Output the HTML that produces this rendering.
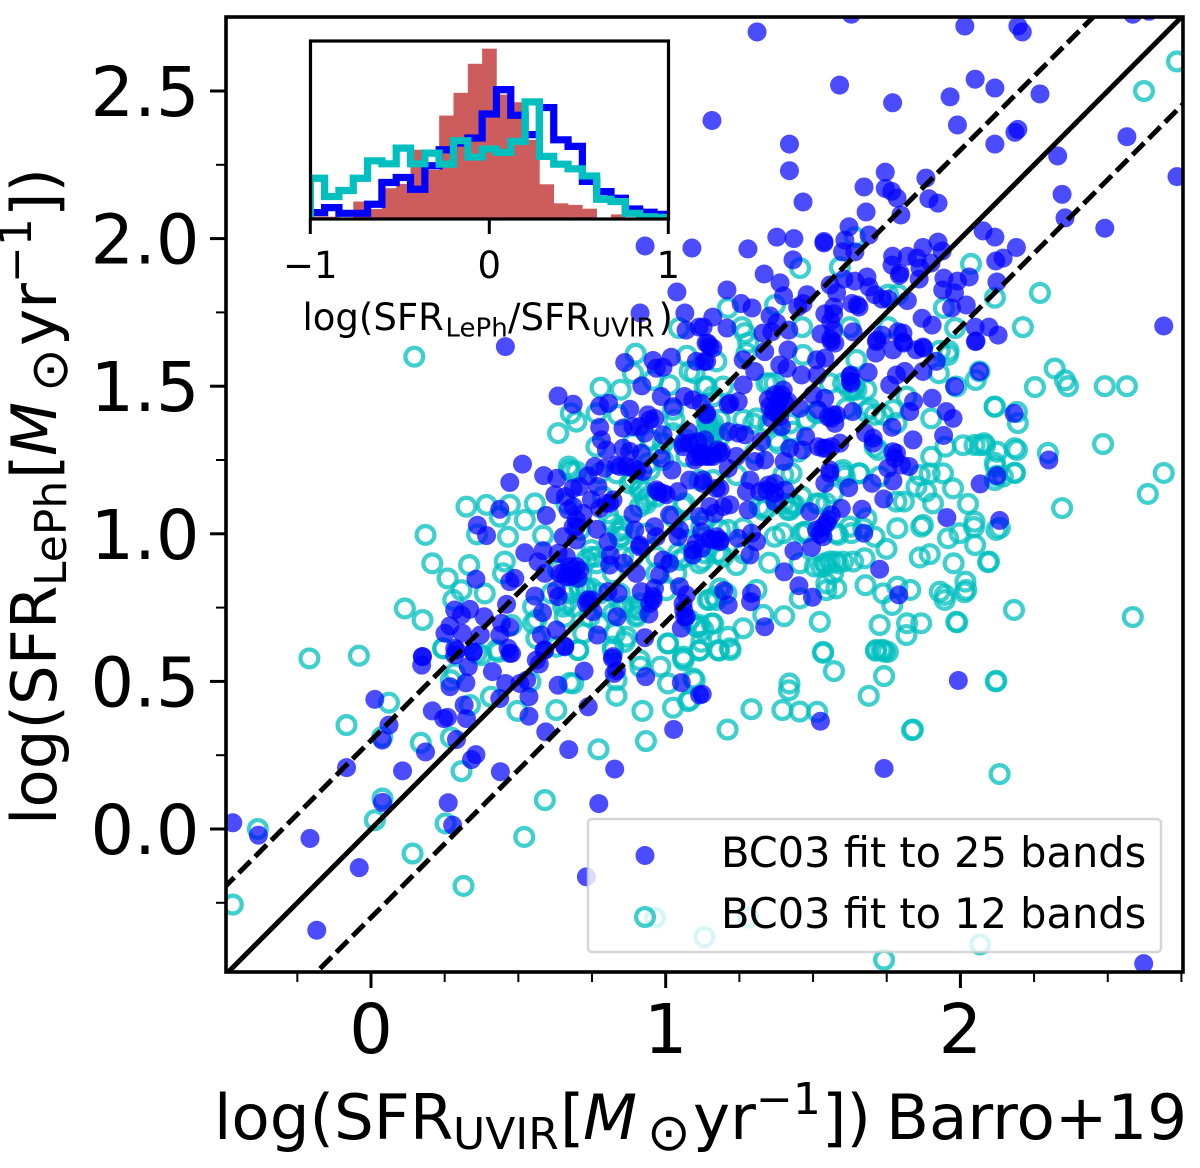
<!DOCTYPE html>
<html lang="en">
<head>
<meta charset="utf-8">
<title>SFR comparison scatter chart</title>
<style>
html,body{margin:0;padding:0;background:#fff;}
svg{display:block;font-family:"DejaVu Sans",sans-serif;}
text{fill:#000;}
</style>
</head>
<body>
<svg id="chart" xmlns="http://www.w3.org/2000/svg" width="1200" height="1168" viewBox="0 0 1200 1168">
  <defs>
    <clipPath id="plot-clip"><rect x="226" y="17" width="957" height="955"/></clipPath>
    <clipPath id="inset-clip"><rect x="310.5" y="41" width="358" height="178"/></clipPath>
  </defs>
  <rect x="0" y="0" width="1200" height="1168" fill="#fff"/>
  <g id="series-layer" clip-path="url(#plot-clip)"></g>
  <g id="line-layer" clip-path="url(#plot-clip)"></g>
  <g id="axis-layer"></g>

  <g transform="translate(214,1139)">
    <text x="0" y="0" font-size="62.7">log(SFR</text>
    <text x="239" y="10" font-size="44">UVIR</text>
    <text x="346" y="0" font-size="62.7">[</text>
    <text x="369" y="0" font-size="62.7" font-style="italic">M</text>
    <text x="433" y="11" font-size="52">⊙</text>
    <text x="479" y="0" font-size="62.7">yr</text>
    <text x="542" y="-25" font-size="44">−1</text>
    <text x="608" y="0" font-size="62.7">])</text>
    <text x="672" y="0" font-size="62.7">Barro+19</text>
  </g>
  <g transform="translate(56,825) rotate(-90)">
    <text x="0" y="0" font-size="62.7">log(SFR</text>
    <text x="239" y="10" font-size="44">LePh</text>
    <text x="346" y="0" font-size="62.7">[</text>
    <text x="369" y="0" font-size="62.7" font-style="italic">M</text>
    <text x="433" y="11" font-size="52">⊙</text>
    <text x="479" y="0" font-size="62.7">yr</text>
    <text x="542" y="-25" font-size="44">−1</text>
    <text x="608" y="0" font-size="62.7">])</text>
  </g>

  <g>
    <rect x="588" y="819" width="573" height="133" rx="4" fill="#fff" fill-opacity="0.8" stroke="#ccc" stroke-opacity="0.8" stroke-width="2.5"/>
    <circle cx="645" cy="855.5" r="9.5" fill="#0000ff" fill-opacity="0.7"/>
    <text x="721" y="867" font-size="41.5">BC03 fit to 25 bands</text>
    <circle cx="645" cy="917" r="8.9" fill="none" stroke="#00bfbf" stroke-opacity="0.75" stroke-width="4.3"/>
    <text x="721" y="928" font-size="41.5">BC03 fit to 12 bands</text>
  </g>

  <g>
    <rect x="310.5" y="41" width="358" height="178" fill="#fff"/>
    <g id="inset-bars" clip-path="url(#inset-clip)"></g>
    <g id="inset-steps" clip-path="url(#inset-clip)"></g>
    <rect x="310.5" y="41" width="358" height="178" fill="none" stroke="#000" stroke-width="3.2"/>
    <g id="inset-axis"></g>
    <g transform="translate(302.5,330)">
      <text x="0" y="0" font-size="37">log(SFR</text>
      <text x="143" y="6.5" font-size="26">LePh</text>
      <text x="205.5" y="0" font-size="37">/SFR</text>
      <text x="289.5" y="6.5" font-size="26">UVIR</text>
      <text x="356" y="0" font-size="37">)</text>
    </g>
  </g>
</svg>
<script>
const xTickLabels = [0, 1, 2];
const yTickLabels = [0.0, 0.5, 1.0, 1.5, 2.0, 2.5];
const xMinorTicks = [-0.25, 0.25, 0.5, 0.75, 1.25, 1.5, 1.75, 2.25, 2.5, 2.75];
const yMinorTicks = [-0.25, 0.25, 0.75, 1.25, 1.75, 2.25];
const lineOffsets = [0.3, -0.3];
const insetTicks = [-1, 0, 1];
const binStart = -1;
const binWidth = 0.08;
const histRed = [1.3,1.3,0.8,9.8,5.6,17.3,19.7,38.9,27.6,58.1,70.9,87.2,95.7,69.9,65.6,44.5,19.5,8.8,7.9,5.8,0,2.6,0.8,0,0];
const histBlue = [3.6,6.4,3.2,3.2,8.3,20.5,23.3,16.7,29.9,38.9,42.7,45.5,59.0,72.7,58.3,47.4,62.6,44.5,40.8,21.1,15.4,11.7,5.6,3.8,2.6];
const histCyan = [22.9,12.6,16.0,22.9,32.7,31.0,39.8,31.0,37.0,30.8,44.0,34.8,39.3,37.4,43.6,65.8,35.2,30.8,28.2,24.2,11.1,9.8,3.2,1.3,0.9];

const points12Bands = [
[-.209,.578],[-.041,.587],[.061,.428],[-.083,.352],[.038,.312],[.169,.292],[.271,.310],[.307,.196],[.039,.103],[.013,.030],[.253,.019],[-.384,0],[-.469,-.256],[.141,-.083],[.314,-.193],[.590,.098],[.520,-.027],[.772,.270],[.933,.298],[.921,.400],[.833,.451],[.833,.504],[1.025,.411],[1.076,.433],[1.008,.493],[.982,.550],[.914,.550],[1.059,.578],[1.061,.572],[1.093,.510],[.629,.403],[.497,.400],[.407,.448],[.336,.420],[.541,.499],[.675,.495],[.686,.493],[.703,.606],[.821,.606],[.861,.634],[1.008,.629],[.271,.504],[.285,.527],[.245,.612],[.375,.589],[.358,.595],[.432,.600],[.629,.617],
[1.114,.604],[1.181,.604],[1.220,.606],[1.534,.597],[1.571,.535],[1.713,.604],[1.732,.606],[1.743,.600],[1.741,.518],[1.689,.451],[2.122,.502],[1.839,.337],[2.133,.186],[1.420,.493],[1.418,.470],[1.291,.406],[1.396,.403],[1.455,.398],[1.514,.397],[1.210,.337],[1.099,.504],[1.082,.437],[1.131,-.366],[1.280,-.300],[2.067,-.391],[1.741,-.443],[.964,-.300],
[2.623,2.50],[2.735,2.60],[2.27,1.816],[2.212,1.70],[2.117,1.80],[2.036,1.914],[1.944,1.765],[1.982,1.697],[1.456,1.90],[1.591,1.903],[1.371,1.775],[1.211,1.765],[1.463,1.70],[1.625,1.70],[1.755,1.70],[1.755,1.81],[1.788,1.81],[1.642,2.005],[1.259,1.70],[1.269,1.68],[1.28,1.647],[1.93,1.62],[1.96,1.62],[1.045,1.697],
[2.32,1.56],[2.365,1.50],[2.49,1.50],[2.565,1.50],[2.484,1.304],[2.69,1.206],[2.636,1.135],[2.345,1.087],[2.585,.718],[2.297,1.274],[2.253,1.497],[2.355,1.52],[2.117,1.43],[2.192,1.413],[2.192,1.284],[2.117,1.24],[2.185,1.206],[2.117,1.182],[2.134,1.02],[2.046,1.023],[2.094,.904],[2.05,.962],[2.02,.81],[2.067,1.30],[2.084,1.30],[2.009,1.30],[2.182,.742],[1.989,.70],[2.12,.50],[1.836,.335],
[2.116,1.431],[2.195,1.375],[2.048,1.301],[2.080,1.307],[2.125,1.278],[2.184,1.290],[2.119,1.228],[2.184,1.207],[2.144,1.194],[2.124,1.197],[2.097,.906],[2.026,1.101],[2.048,1.041],[2.122,1.013],[1.997,1.002],[1.958,.985],[1.975,1.154],[1.941,1.205],[1.901,1.391],[1.901,1.261],[1.949,1.295],[2.052,1.521],[2.065,1.55],[1.986,1.499],[1.958,1.606],[1.927,1.544],[1.862,1.199],[1.896,1.205],[1.851,1.160],[1.884,1.143],[1.907,1.103],[1.808,1.109],[1.783,1.109],[1.786,1.019],[1.867,1.024],[1.873,1.030],[1.749,.949],[1.862,.920],[1.896,.931],[1.977,.900],[2.017,.838],[2.014,.802],[1.930,.804],[1.947,.793],[1.947,.776],[1.830,.810],[1.786,.821],[1.738,.798],[1.769,.759],[1.726,.691],[1.819,.697],[1.867,.697],[1.986,.702],[1.817,.657],[1.715,.606],[1.738,.606],[1.754,.600],[1.678,.826],[1.579,.815],[1.545,.809],[1.523,.702],[1.534,.600],[1.455,.781],[1.402,.721],[1.331,.725],[1.263,.680],[1.212,.651],[1.218,.612],[1.178,.606],[1.156,.696],[1.116,.691],[1.167,.787],[1.184,.815],[1.308,.810],[1.351,.902],[1.240,.894],[1.455,.900],[1.506,.889],[1.545,.894],[1.574,.906],[1.602,.906],[1.636,.906],[1.675,.917],[1.568,.866],[1.709,.990],[1.670,1.019],[1.630,1.002],[1.579,1.002],[1.472,1.007],[1.398,1.002],[1.681,1.052],[1.656,1.205],[1.602,1.205],[1.726,1.194],[1.427,1.205],[1.399,1.199],[1.545,1.103],[1.512,1.103],[1.602,1.216],[1.432,1.092],[1.415,1.081],[1.331,1.081],[1.161,1.182],[1.139,1.499],[1.195,1.499],[1.172,1.584],[1.274,1.612],[1.466,1.606],[1.370,1.510],[1.557,1.510],[1.641,1.504],[1.647,1.589],[1.681,1.488],[1.636,1.488],[1.771,1.420],[1.709,1.403],[1.692,1.425],[1.817,1.465],[1.783,1.375],[1.721,1.284],[1.709,1.295],[1.308,1.391],[1.348,1.374],[1.421,1.374],[1.512,1.414],[1.613,1.425],[1.342,1.510],[1.161,1.374],[1.150,1.352],[1.184,1.386],[1.382,1.307],[1.449,1.278],[1.263,1.386],[1.302,1.273],[1.240,1.199],[1.398,1.103],[1.461,1.126],[1.133,1.047],[1.212,1.013],[1.263,1.019],[1.370,.990],[1.184,.934],[1.127,.911],[1.263,.934],
[.147,1.600],[.898,1.610],[.889,1.544],[1.072,1.603],[1.132,1.499],[1.098,1.544],[1.013,1.504],[.779,1.495],[.847,1.488],[.678,1.408],[.697,1.380],[.635,1.341],[.765,1.408],[.765,1.295],[.838,1.403],[1.025,1.420],[.671,1.228],[.680,1.211],[.324,1.092],[.392,1.098],[.471,1.098],[.556,1.103],[.522,1.047],[.437,1.058],[.584,.994],[.465,.990],[.360,.998],[.185,.996],[.208,.900],[.260,.849],[.333,.894],[.454,.906],[.448,.866],[.386,.798],[.307,.809],[.279,.776],[.115,.747],[.175,.708],[.245,.612],[.426,.606],[.477,.691],[.550,.697],[.561,.646],[.657,.719],[.720,.663],[.703,.606],[.821,.618],[.867,.651],[.895,.742],[.901,.725],[1.007,.628],[1.115,.606],[1.059,.584],[.912,.572],[1.161,.696],[1.105,.685],[1.128,.674],[.828,.663],[.731,.809],[.708,.815],[.675,.798],[.748,.922],[.765,.900],[.855,.922],[.850,1.013],[.844,.990],[.912,1.149],[.934,1.103],[.940,1.126],[1.059,1.092],[.934,1.001],[1.081,1.024],[1.047,.911],[1.115,.900],[1.172,.934],[1.149,1.329],[1.115,1.182],[1.07,1.262],[.946,1.216],[.833,1.205],[.776,1.205],[.968,1.126],[.804,1.069],[.787,1.126],[.878,1.171],[1.030,1.386],[.991,1.307],[1.160,1.341],[1.138,1.352],[.889,1.307],[.821,1.036],[.663,1.103],[.708,1.013],[.742,.719],[.777,.798],[.844,.798],[.912,.764],[1.002,.809],[1.036,.866],[.968,.866],[.821,.866],[.635,.877],[.714,.866],[.612,.798],[.550,.753],[.652,.753],[1.172,.776],[1.143,.776],
[.957,1.521],[1.081,1.550],[1.160,1.465],[1.070,1.318],[1.143,1.374],[1.166,1.341],[.979,1.273],[.940,1.239],[.889,1.182],[.917,1.154],[.929,1.115],[.912,1.092],[.855,1.024],[.838,1.007],[.849,.990],[1.064,1.103],[1.025,1.058],[1.075,.979],[1.121,1.024],[1.042,.934],[1.064,.922],[.748,.945],[.765,.922],[.731,.911],[.968,.922],[.889,.922],[.708,.821],[.731,.815],[.748,.815],[.663,.764],[.686,.753],[.561,.708],[1.121,.634],[1.109,.685],[1.081,.708],[1.149,.776],[.889,.753],[.900,.719],[.912,.742],[.821,.730],[.855,.753],[.787,.753],[.776,.697],[.674,1.216],[.697,1.211],[.951,1.318],[.991,1.250],[1.025,1.341],
[1.156,1.358],[1.139,1.386],[1.184,1.329],[1.353,1.510],[1.297,1.374],[1.376,1.318],[1.432,1.346],[1.478,1.386],[1.512,1.408],[1.602,1.510],[1.625,1.488],[1.647,1.488],[1.681,1.414],[1.738,1.403],[1.427,1.103],[1.421,1.081],[1.438,1.098],[1.342,1.086],[1.319,1.092],[1.523,1.103],[1.568,1.137],[1.608,1.194],[1.658,1.205],[1.625,1.024],[1.478,1.007],[1.461,1.002],[1.585,.996],[1.540,.900],[1.528,.889],[1.557,.906],[1.585,.900],[1.545,.832],[1.133,.934],[1.195,.922],[1.184,1.013],[1.206,.798]
];

const points25Bands = [
[1.63,2.76],[1.31,2.70],[2.015,2.72],[2.195,2.72],[2.21,2.70],[2.585,2.76],[2.64,2.77],[1.59,2.52],[1.77,2.46],[1.157,2.40],[2.05,2.54],[2.117,2.51],[1.965,2.48],[2.27,2.49],[1.99,2.385],[2.195,2.37],[2.185,2.36],[2.117,2.32],[2.565,2.345],[2.33,2.28],[1.42,2.32],[1.42,2.23],[2.345,2.15],[2.735,2.21],[1.745,2.225],[1.673,2.175],[1.883,2.205],[1.745,2.17],[1.767,2.16],[1.785,2.137],[1.893,2.135],[1.924,2.12],[1.466,2.124],[1.68,2.09],[1.798,2.08],[2.355,2.07],[2.49,2.035],[2.69,1.704],[2.077,2.026],[2.117,2.005],[2.19,1.97],[2.145,1.934],[2.12,1.924],[2.124,1.853],[2.03,1.87],[1.99,1.856],[1.944,1.866],[1.94,1.826],[1.98,1.816],[2.02,1.775],[1.97,1.765],[1.924,1.988],[1.938,1.958],[1.873,1.97],[1.82,1.94],[1.77,1.94],[1.853,1.934],[1.9,1.917],[1.768,1.91],[1.795,1.883],[1.793,1.876],[1.863,1.9],[1.86,1.863],[1.683,1.87],[1.642,1.856],[1.605,1.863],[1.69,1.836],[1.71,1.81],[1.734,1.795],[1.755,1.795],[1.82,1.79],[1.632,1.78],[1.65,1.775],[1.656,1.768],[1.58,1.816],[1.558,1.843],[1.57,1.768],[1.57,1.745],[1.56,1.72],[1.57,1.69],[1.56,1.66],[1.54,1.745],[1.527,1.677],[1.622,2.04],[1.608,1.995],[1.69,2.012],[1.537,1.99],[1.537,1.985],[1.60,1.955],[1.642,1.955],[1.435,2.0],[1.377,2.005],[1.279,1.965],[1.432,1.928],[1.334,1.88],[1.388,1.85],[1.40,1.806],[1.48,1.81],[1.466,1.78],[1.448,1.768],[1.208,1.826],[1.256,1.78],[1.293,1.765],[1.354,1.738],[1.377,1.714],[1.36,1.684],[1.33,1.68],[1.418,1.69],[1.16,1.734],[1.208,1.697],[1.127,1.70],[1.734,1.673],[1.717,1.656],[1.805,1.68],[1.788,1.684],[1.805,1.65],[1.87,1.73],[1.904,1.707],[2.05,1.70],[2.097,1.70],[2.128,1.673],[2.053,1.653],[1.873,1.633],[1.636,1.684],
[.93,1.975],[1.089,1.968],[1.038,1.819],[.913,1.748],[1.065,1.748],[1.069,1.69],[1.113,1.70],[1.137,1.646],
[.456,1.634],[.514,1.236],[.471,1.174],[.586,1.197],[.631,1.188],[.624,1.132],[.660,1.126],[.635,1.467],[.686,1.439],[.861,1.580],[.957,1.587],[1.019,1.598],[.991,1.564],[.968,1.561],[1.104,1.584],[1.132,1.584],[1.143,1.646],[1.160,1.629],[.919,1.501],[.985,1.465],[1.064,1.465],[1.092,1.454],[1.121,1.442],[1.025,1.431],[.878,1.422],[.806,1.442],[.776,1.433],[.940,1.403],[.963,1.391],[.855,1.358],[.889,1.363],[.929,1.341],[.991,1.335],[.776,1.361],[.782,1.318],[.799,1.284],[.855,1.290],[.878,1.279],[.917,1.273],[1.138,1.403],[1.076,1.346],[1.059,1.307],[1.109,1.312],[1.098,1.250],[1.149,1.262],[1.177,1.284],[.985,1.256],[.759,1.228],[.793,1.222],[.833,1.233],[.866,1.228],[.902,1.216],[.923,1.211],[.736,1.196],[.708,1.160],[.686,1.154],[.770,1.160],[1.021,1.216],[1.126,1.171],[1.081,1.182],[1.042,1.143],[.974,1.143],[1.002,1.132],[1.172,1.154],[.686,1.092],[.669,1.081],[.748,1.115],[.720,1.069],[.776,1.086],[.810,1.103],[.821,1.115],[.889,1.067],[.595,1.062],[.437,1.083],[.361,1.029],[.392,.994],[1.013,1.064],[1.115,1.058],[.962,1.024],[.895,1.013],[1.047,1.013],[1.166,1.069],[.697,1.024],[.652,.990],[.767,1.015],[.804,.973],[.812,.928],[.810,.894],[.697,.979],[.912,.962],[.968,.990],[1.042,.990],[1.104,.968],[1.092,.928],[1.166,.979],[.522,.936],[.584,.943],[.567,.905],[.635,.934],[.663,.922],[.590,.866],[.652,.866],[.675,.855],[.708,.877],[.703,.849],[.488,.849],[.471,.838],[.356,.846],[.858,.900],[.900,.866],[.979,.860],[.991,.911],[1.013,.900],[.629,.809],[.635,.787],[.556,.789],[.460,.761],[.804,.804],[.838,.798],[.736,.776],[.753,.736],[.917,.804],[.962,.815],[.957,.776],[.943,.728],[1.047,.821],[1.070,.793],[1.061,.742],[1.070,.719],[1.053,.680],[.284,.742],[.335,.744],[.307,.725],[.268,.688],[.251,.663],[.310,.663],[.384,.719],[.371,.657],[.443,.697],[.471,.683],[.437,.657],[.582,.733],[.578,.657],[.629,.674],[.587,.606],[.657,.620],[.768,.657],[.835,.719],[.929,.648],[.821,.584],[.284,.612],[.347,.600],[.465,.612],[.477,.595],[.175,.584],[.284,.589],[.561,.572],
[1.150,1.634],[1.139,1.584],[1.263,1.589],[1.336,1.617],[1.415,1.623],[1.387,1.572],[1.412,1.561],[1.461,1.538],[1.514,1.538],[1.512,1.589],[1.540,1.595],[1.562,1.651],[1.574,1.646],[1.713,1.612],[1.715,1.651],[1.771,1.623],[1.808,1.646],[1.850,1.623],[1.875,1.629],[1.918,1.584],[2.051,1.651],[1.302,1.550],[1.263,1.504],[1.212,1.437],[1.246,1.448],[1.348,1.454],[1.393,1.471],[1.382,1.442],[1.365,1.414],[1.404,1.442],[1.387,1.397],[1.359,1.391],[1.393,1.363],[1.455,1.425],[1.517,1.420],[1.540,1.459],[1.500,1.471],[1.562,1.391],[1.574,1.374],[1.579,1.403],[1.634,1.414],[1.628,1.538],[1.627,1.516],[1.687,1.547],[1.760,1.504],[1.783,1.538],[1.811,1.550],[1.873,1.550],[1.980,1.499],[2.065,1.550],[1.904,1.459],[1.841,1.448],[1.828,1.414],[1.768,1.361],[1.704,1.324],[1.678,1.341],[1.704,1.307],[1.839,1.318],[1.952,1.414],[1.975,1.391],[1.943,1.333],[2.182,1.408],[1.139,1.408],[1.212,1.346],[1.246,1.341],[1.269,1.335],[1.325,1.312],[1.475,1.329],[1.421,1.290],[1.464,1.284],[1.534,1.290],[1.562,1.295],[1.591,1.307],[1.302,1.245],[1.336,1.250],[1.402,1.245],[1.240,1.262],[1.161,1.262],[1.122,1.262],[1.189,1.278],[1.133,1.318],[1.212,1.222],[1.771,1.278],[1.777,1.256],[1.754,1.222],[1.800,1.233],[1.826,1.228],[1.771,1.179],[1.540,1.171],[1.557,1.216],[1.621,1.156],[1.700,1.171],[1.740,1.118],[2.067,1.169],[2.124,1.197],[1.286,1.182],[1.274,1.143],[1.319,1.143],[1.348,1.165],[1.370,1.171],[1.404,1.148],[1.370,1.109],[1.127,1.182],[1.184,1.154],[1.150,1.092],[1.195,1.092],[1.218,1.098],[1.280,1.081],[1.489,1.075],[1.596,1.086],[1.562,1.064],[1.666,1.083],[1.545,1.035],[1.512,1.013],[1.534,.990],[1.672,1.002],[1.954,1.055],[2.133,1.045],[1.495,.954],[1.435,.942],[1.291,1.002],[1.308,.973],[1.246,.985],[1.184,.973],[1.150,.982],[1.286,.928],[1.122,1.007],[1.122,.951],[1.402,.871],[1.452,.824],[1.498,.785],[1.726,.880],[1.791,.793],[1.197,.807],[1.212,.759],[1.291,.798],[1.288,.770],[1.336,.685],[2.30,1.25],
[.174,.584],[.172,.555],[.290,.606],[.347,.600],[.471,.595],[.330,.550],[.268,.482],[.322,.495],[.412,.533],[.457,.493],[.528,.504],[.505,.493],[.571,.559],[.590,.606],[.658,.617],[.635,.487],[.723,.535],[.819,.578],[.825,.527],[.833,.536],[.932,.516],[1.053,.496],[1.115,.454],[1.027,.337],[.737,.414],[.536,.448],[.437,.442],[.536,.382],[.316,.420],[.324,.374],[.208,.400],[.247,.374],[.260,.378],[.013,.439],[.061,.352],[.038,.301],[.185,.261],[.290,.303],[.356,.252],[.341,.235],[-.083,.208],[.107,.197],[.439,.194],[.593,.329],[.671,.269],[.827,.203],[.262,.089],[.039,.090],[.773,.086],[.277,.013],[-.469,.021],[-.382,-.021],[-.207,-.032],[-.040,-.131],[-.184,-.343],[.731,-.162],
[1.124,.457],[1.525,.365],[1.993,.503],[1.741,.205],[2.622,-.456],
[1.370,1.471],[1.387,1.459],[1.353,1.431],[1.376,1.425],[1.399,1.487],[1.415,1.448],[1.568,1.403],[1.551,1.396],[.640,.866],[.663,.855],[.686,.860],[.697,.889],[.675,.889],[1.064,.719],[1.059,.764],[.697,1.047],[.686,1.024],[.799,1.103],[1.126,1.273],[1.104,1.261],[1.183,1.273],[.889,1.222],[.844,1.228],[.946,1.386],[.912,1.363],[1.059,1.295],[1.081,1.307],[.968,1.149],[.991,1.137],[.748,.776],[.957,.787],[.946,.764],[.912,.956],[1.092,.945],[.731,.764],[1.116,1.273],[1.139,1.262],[1.218,1.442],[1.545,1.290],[1.517,1.295],[1.557,1.205],[1.534,1.024],[1.551,1.047],[1.523,.998],[1.783,1.273],[1.370,1.137],[1.342,1.149],[1.184,.979],[1.173,.990],[1.625,1.533],[1.630,1.510]
];

const NS = 'http://www.w3.org/2000/svg';
function sx(v){ return 371 + v * 294.7; }
function sy(v){ return 829 - v * 295.2; }
function ix(v){ return 489.3 + v * 179; }
function iy(v){ return 219 - v * 1.78; }
function make(tag, attrs, parent){
  const el = document.createElementNS(NS, tag);
  Object.keys(attrs).forEach(function(k){ el.setAttribute(k, attrs[k]); });
  parent.appendChild(el);
  return el;
}

const seriesLayer = document.getElementById('series-layer');
points12Bands.forEach(function(p){
  const c = make('circle', {cx: sx(p[0]), cy: sy(p[1]), r: 8.9, fill: 'none', stroke: '#00bfbf', 'stroke-opacity': 0.75, 'stroke-width': 4.3}, seriesLayer);
  
  
});
points25Bands.forEach(function(p){
  const c = make('circle', {cx: sx(p[0]), cy: sy(p[1]), r: 9.5, fill: '#0000ff', 'fill-opacity': 0.7}, seriesLayer);
  
  
});

const lineLayer = document.getElementById('line-layer');
const lineMin = -1, lineMax = 4;
const unity = make('line', {x1: sx(lineMin), y1: sy(lineMin), x2: sx(lineMax), y2: sy(lineMax), stroke: '#000', 'stroke-width': 5}, lineLayer);


lineOffsets.forEach(function(off){
  const d = make('line', {x1: sx(lineMin), y1: sy(lineMin + off), x2: sx(lineMax), y2: sy(lineMax + off), stroke: '#000', 'stroke-width': 5, 'stroke-dasharray': '16.5 6.5'}, lineLayer);
  
  
});

const axisLayer = document.getElementById('axis-layer');
const frame = make('rect', {x: 226, y: 17, width: 957, height: 955, fill: 'none', stroke: '#000', 'stroke-width': 3.6}, axisLayer);


xTickLabels.forEach(function(v){
  const t = make('line', {x1: sx(v), x2: sx(v), y1: 972, y2: 988, stroke: '#000', 'stroke-width': 3}, axisLayer);
  
  
  const l = make('text', {x: sx(v), y: 1053, 'font-size': 68.5, 'text-anchor': 'middle'}, axisLayer);
  l.textContent = String(v);
  
  
});
xMinorTicks.forEach(function(v){
  const t = make('line', {x1: sx(v), x2: sx(v), y1: 972, y2: 982, stroke: '#000', 'stroke-width': 2}, axisLayer);
  
  
});
yTickLabels.forEach(function(v){
  const t = make('line', {x1: 210, x2: 226, y1: sy(v), y2: sy(v), stroke: '#000', 'stroke-width': 3}, axisLayer);
  
  
  const l = make('text', {x: 199.5, y: sy(v) + 25, 'font-size': 68.5, 'text-anchor': 'end'}, axisLayer);
  l.textContent = v.toFixed(1);
  
  
});
yMinorTicks.forEach(function(v){
  const t = make('line', {x1: 216, x2: 226, y1: sy(v), y2: sy(v), stroke: '#000', 'stroke-width': 2}, axisLayer);
  
  
});

const insetBars = document.getElementById('inset-bars');
histRed.forEach(function(h, i){
  if (h <= 0) return;
  const x0 = ix(binStart + i * binWidth), x1 = ix(binStart + (i + 1) * binWidth);
  const b = make('rect', {x: x0, y: iy(h), width: x1 - x0 + 0.3, height: 219 - iy(h), fill: '#cd5c5c'}, insetBars);
  
  
});
function stepPath(vals){
  let d = 'M' + ix(binStart) + ' ' + iy(0);
  vals.forEach(function(h, i){
    d += 'L' + ix(binStart + i * binWidth) + ' ' + iy(h);
    d += 'L' + ix(binStart + (i + 1) * binWidth) + ' ' + iy(h);
  });
  d += 'L' + ix(binStart + vals.length * binWidth) + ' ' + iy(0);
  return d;
}
const insetSteps = document.getElementById('inset-steps');
const stepBlue = make('path', {d: stepPath(histBlue), fill: 'none', stroke: '#0000ff', 'stroke-width': 7.2, 'stroke-linejoin': 'miter'}, insetSteps);


const stepCyan = make('path', {d: stepPath(histCyan), fill: 'none', stroke: '#00bfbf', 'stroke-width': 7.2, 'stroke-linejoin': 'miter'}, insetSteps);



const insetAxis = document.getElementById('inset-axis');
insetTicks.forEach(function(v){
  const t = make('line', {x1: ix(v), x2: ix(v), y1: 219, y2: 234, stroke: '#000', 'stroke-width': 3}, insetAxis);
  
  
  const l = make('text', {x: ix(v), y: 278, 'font-size': 37, 'text-anchor': 'middle'}, insetAxis);
  l.textContent = v < 0 ? '\u2212' + Math.abs(v) : String(v);
  
  
});
</script>
</body>
</html>
